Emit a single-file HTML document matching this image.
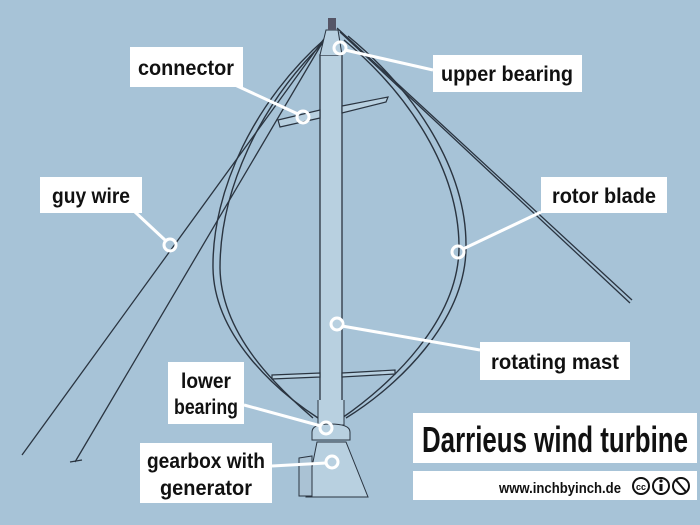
<!DOCTYPE html>
<html><head><meta charset="utf-8"><style>
html,body{margin:0;padding:0;background:#a7c3d7;}
svg{display:block}
text{font-family:"Liberation Sans",sans-serif;font-weight:bold;fill:#111;}
</style></head><body>
<svg width="700" height="525" viewBox="0 0 700 525" xmlns="http://www.w3.org/2000/svg">
<rect width="700" height="525" fill="#a7c3d7"/>
<g stroke="#2a3440" fill="none" stroke-width="1.3">
<line x1="331" y1="28" x2="75" y2="462"/>
<line x1="329" y1="32" x2="22" y2="455"/>
<line x1="337" y1="28" x2="632" y2="300"/>
<line x1="340" y1="32" x2="630" y2="303"/>
<path d="M70 462 L82 460"/>
<path d="M326 38 C255 100,212 190,213 268 C214 335,275 390,318 418" stroke-width="1.4"/>
<path d="M322 44 C260 105,220 190,220 268 C221 335,278 388,313 418" stroke-width="1.4"/>
<path d="M344 40 C410 95,458 170,459 245 C460 320,390 385,342 418" stroke-width="1.4"/>
<path d="M348 36 C416 92,466 170,466 245 C467 322,395 388,346 418" stroke-width="1.4"/>
</g>
<rect x="320" y="55" width="22" height="350" fill="#b8d0e0" stroke="#2a3440" stroke-width="1.3"/>
<path d="M318 400 L318 425 L344 425 L344 400" fill="#b8d0e0" stroke="#2a3440"/>
<path d="M320 55 L326 30 L338 30 L342 55" fill="#b8d0e0" stroke="#2a3440"/>
<rect x="328" y="18" width="8" height="12" fill="#556" />
<g stroke="#2a3440" fill="#b8d0e0" stroke-width="1.2">
<path d="M278 120 L320 110 L320 118 L280 127 Z"/>
<path d="M342 106 L388 97 L386 102 L342 113 Z"/>
<path d="M272 375 L320 373 L320 377 L272 379 Z"/>
<path d="M342 373 L395 370 L395 374 L342 377 Z"/>
</g>
<path d="M312 432 Q312 424 330 424 Q350 424 350 432 L350 440 L312 440 Z" fill="#b8d0e0" stroke="#2a3440"/>
<path d="M317 442 L346 442 L368 497 L306 497 Z" fill="#b8d0e0" stroke="#2a3440"/>
<path d="M299 458 L312 456 L312 496 L299 496 Z" fill="#aac2d4" stroke="#2a3440"/>
<g stroke="#fff" stroke-width="3" fill="none">
<line x1="235" y1="85" x2="298" y2="114"/>
<line x1="345" y1="50" x2="433" y2="70"/>
<line x1="135" y1="212" x2="165" y2="240"/>
<line x1="463" y1="249" x2="541" y2="212"/>
<line x1="342" y1="326" x2="480" y2="350"/>
<line x1="244" y1="405" x2="321" y2="426"/>
<line x1="272" y1="466" x2="326" y2="463"/>
<circle cx="303" cy="117" r="6"/>
<circle cx="340" cy="48" r="6"/>
<circle cx="170" cy="245" r="6"/>
<circle cx="458" cy="252" r="6"/>
<circle cx="337" cy="324" r="6"/>
<circle cx="326" cy="428" r="6"/>
<circle cx="332" cy="462" r="6"/>
</g>
<g fill="#fff">
<rect x="130" y="47" width="113" height="40"/>
<rect x="433" y="55" width="149" height="37"/>
<rect x="40" y="177" width="102" height="36"/>
<rect x="541" y="177" width="126" height="36"/>
<rect x="480" y="342" width="150" height="38"/>
<rect x="168" y="362" width="76" height="62"/>
<rect x="140" y="443" width="132" height="60"/>
<rect x="413" y="413" width="284" height="50"/>
<rect x="413" y="471" width="284" height="29"/>
</g>
<g font-size="21" text-anchor="middle">
<text x="186" y="75" textLength="96" lengthAdjust="spacingAndGlyphs">connector</text>
<text x="507" y="81" textLength="132" lengthAdjust="spacingAndGlyphs">upper bearing</text>
<text x="91" y="203" textLength="78" lengthAdjust="spacingAndGlyphs">guy wire</text>
<text x="604" y="203" textLength="104" lengthAdjust="spacingAndGlyphs">rotor blade</text>
<text x="555" y="369" textLength="128" lengthAdjust="spacingAndGlyphs">rotating mast</text>
<text x="206" y="388" textLength="50" lengthAdjust="spacingAndGlyphs">lower</text>
<text x="206" y="414" textLength="64" lengthAdjust="spacingAndGlyphs">bearing</text>
<text x="206" y="468" textLength="118" lengthAdjust="spacingAndGlyphs">gearbox with</text>
<text x="206" y="495" textLength="92" lengthAdjust="spacingAndGlyphs">generator</text>
</g>
<text x="555" y="452" font-size="36" text-anchor="middle" textLength="266" lengthAdjust="spacingAndGlyphs">Darrieus wind turbine</text>
<text x="560" y="493" font-size="15" text-anchor="middle" textLength="122" lengthAdjust="spacingAndGlyphs">www.inchbyinch.de</text>
<g stroke="#111" stroke-width="2" fill="none">
<circle cx="641" cy="486" r="8"/><circle cx="661" cy="486" r="8"/><circle cx="681" cy="486" r="8"/>
<line x1="676" y1="480" x2="686" y2="492"/>
</g>
<text x="641" y="490" font-size="9" text-anchor="middle">cc</text>
<circle cx="661" cy="481" r="1.6" fill="#111"/><rect x="659.5" y="484" width="3" height="7" fill="#111"/>
</svg>
</body></html>
